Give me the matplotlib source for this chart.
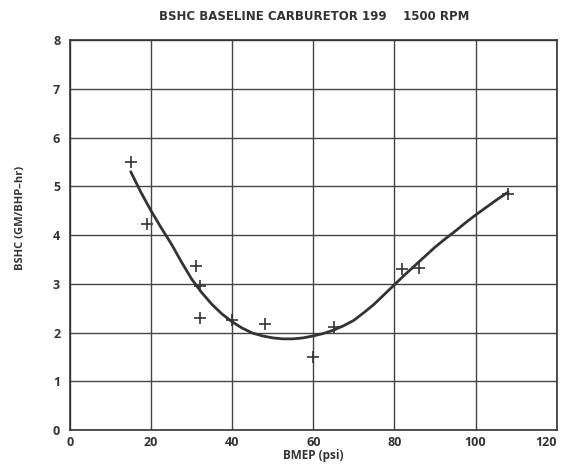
import matplotlib
matplotlib.use("Agg")
import matplotlib.pyplot as plt

# measured points (BMEP psi, BSHC gm/bhp-hr)
bmep = [15, 19, 31, 32, 32, 40, 48, 60, 65, 82, 86, 108]
bshc = [5.5, 4.23, 3.37, 2.95, 2.3, 2.25, 2.17, 1.5, 2.12, 3.3, 3.32, 4.85]

# faired curve
curve_x = [15, 17.5, 20, 22.5, 25, 27.5, 30, 32.5, 35, 37.5, 40, 42.5, 45, 47.5,
           50, 52.5, 55, 57.5, 60, 62.5, 65, 67.5, 70, 72.5, 75, 77.5, 80, 82.5,
           85, 87.5, 90, 92.5, 95, 97.5, 100, 102.5, 105, 108]
curve_y = [5.3, 4.88, 4.5, 4.15, 3.82, 3.45, 3.1, 2.82, 2.58, 2.38, 2.22, 2.09, 1.99, 1.93,
           1.89, 1.87, 1.87, 1.89, 1.93, 1.98, 2.05, 2.14, 2.25, 2.41, 2.58, 2.78, 2.98, 3.18,
           3.37, 3.56, 3.75, 3.92, 4.08, 4.25, 4.41, 4.56, 4.71, 4.88]

x_ticks = [0, 20, 40, 60, 80, 100, 120]
y_ticks = [0, 1, 2, 3, 4, 5, 6, 7, 8]

plt.rcParams["font.family"] = ["Open Sans", "DejaVu Sans"]
ink = "#333333"

fig = plt.figure(figsize=(5.68, 4.72), dpi=100)
ax = fig.add_axes([0.123, 0.089, 0.857, 0.826])

ax.plot(curve_x, curve_y, color=ink, linewidth=2.0, solid_capstyle="round",
        solid_joinstyle="round")
ax.plot(bmep, bshc, linestyle="none", marker="+", markersize=8,
        markeredgewidth=1.2, color=ink)

ax.set_xlim(0, 120)
ax.set_ylim(0, 8)
ax.set_xticks(x_ticks)
ax.set_yticks(y_ticks)
ax.grid(True, color="#444444", linewidth=1.0)
ax.set_axisbelow(True)
for s in ax.spines.values():
    s.set_color(ink)
    s.set_linewidth(1.2)
ax.tick_params(length=0, labelsize=9, colors=ink)
ax.tick_params(axis="x", pad=4)
ax.tick_params(axis="y", pad=7)
for lbl in ax.get_xticklabels() + ax.get_yticklabels():
    lbl.set_fontweight("bold")
ax.get_xticklabels()[-1].set_horizontalalignment("right")

ax.set_xlabel("BMEP (psi)", fontsize=8.5, fontweight="bold", color=ink, labelpad=0)
ax.set_ylabel("BSHC (GM/BHP–hr)", fontsize=8, fontweight="bold", color=ink)
ax.yaxis.set_label_coords(-0.09, 0.545)
fig.text(0.553, 0.965, "BSHC BASELINE CARBURETOR 199    1500 RPM",
         ha="center", va="center", fontsize=8.5, fontweight="bold", color=ink,
         family="DejaVu Sans")

fig.savefig("out.png", dpi=100, facecolor="white")
